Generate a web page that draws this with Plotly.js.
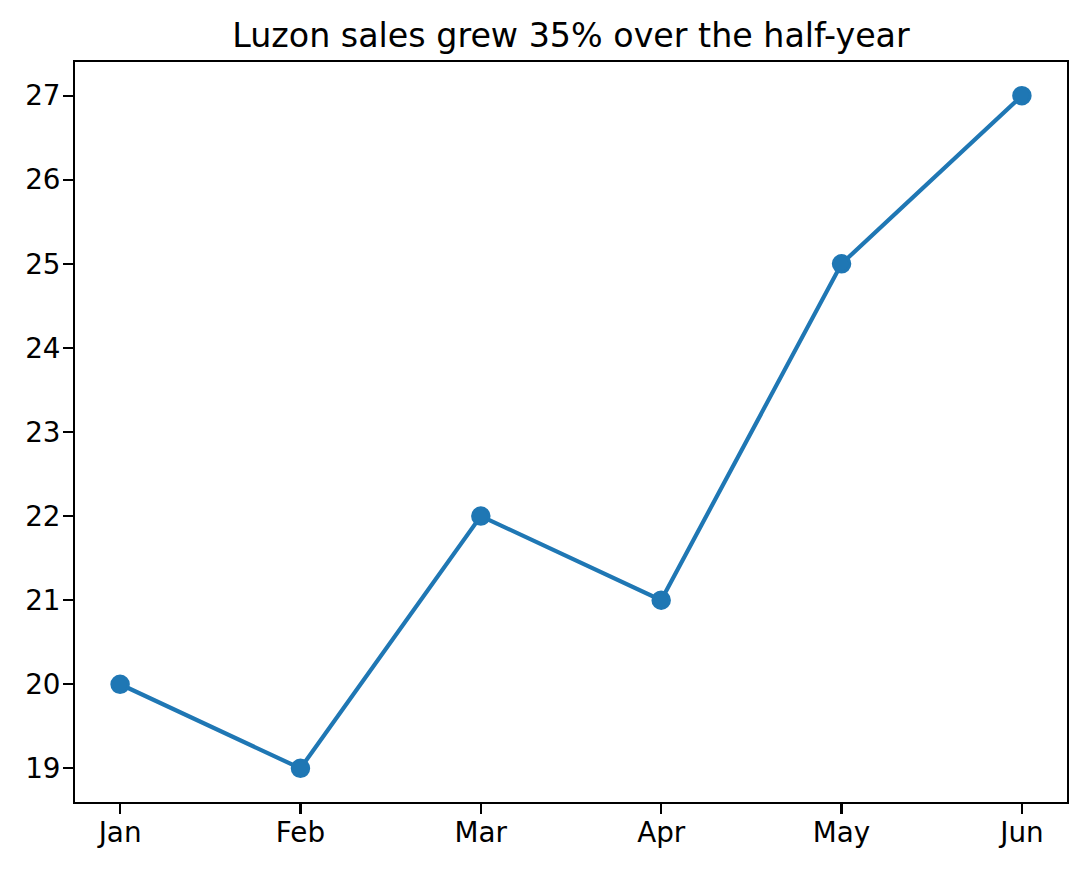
<!DOCTYPE html>
<html>
<head>
<meta charset="utf-8">
<script src="https://cdn.plot.ly/plotly-3.0.1.min.js"></script>
<style>
  html, body { margin: 0; padding: 0; background: #fff; }
  #chart { width: 1086px; height: 869px; }
</style>
</head>
<body>
<div id="chart"></div>
<script>
const months = ["Jan", "Feb", "Mar", "Apr", "May", "Jun"];
const sales = [20, 19, 22, 21, 25, 27];
const yTicks = [19, 20, 21, 22, 23, 24, 25, 26, 27];

const blue = "#1f77b4";

const trace = {
	x: months,
	y: sales,
	type: "scatter",
	mode: "lines+markers",
	line: { color: blue, width: 4.2 },
	// matplotlib draws an edge of the same colour round each dot
	marker: { color: blue, size: 16.7, line: { color: blue, width: 2.8 } },
	hoverinfo: "x+y",
};

const axisStyle = {
	showline: true,
	mirror: true,
	linecolor: "#000",
	linewidth: 2.2,
	showgrid: false,
	zeroline: false,
	ticks: "outside",
	ticklen: 9.7,
	tickwidth: 2.2,
	tickcolor: "#000",
	tickfont: { family: "DejaVu Sans", size: 27.8, color: "#000" },
};

const layout = {
	width: 1086,
	height: 869,
	margin: { l: 75, r: 19, t: 62, b: 67 },
	paper_bgcolor: "#fff",
	plot_bgcolor: "#fff",
	showlegend: false,
	font: { family: "DejaVu Sans", color: "#000" },
	title: {
		text: "Luzon sales grew 35% over the half-year",
		font: { family: "DejaVu Sans", size: 33.3, color: "#000" },
		x: 0.5,
		xref: "paper",
		y: 1 - 35 / 869,
		yref: "container",
		yanchor: "middle",
	},
	xaxis: Object.assign({}, axisStyle, {
		type: "category",
		range: [-0.25, 5.25],
		ticklabelstandoff: -5,
	}),
	yaxis: Object.assign({}, axisStyle, {
		range: [18.6, 27.4],
		tickvals: yTicks,
		ticktext: yTicks.map(String),
		ticklabelstandoff: -3,
	}),
};

Plotly.newPlot("chart", [trace], layout, { staticPlot: true });
</script>
</body>
</html>
